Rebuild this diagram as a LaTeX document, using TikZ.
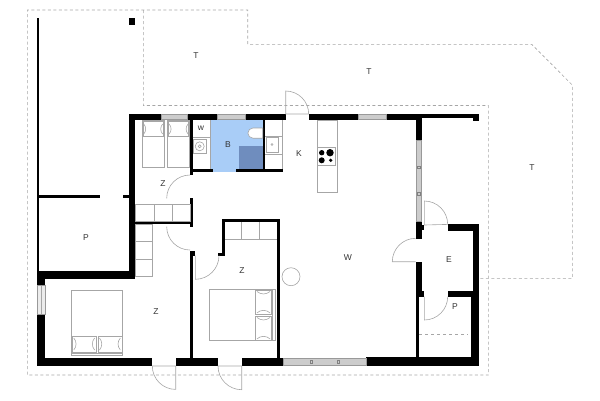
\documentclass[tikz,border=0pt]{standalone}
\usepackage{fontspec}
\setmainfont{Liberation Sans}
\definecolor{bathblue}{HTML}{A9CDF7}
\definecolor{showerblue}{HTML}{6F8DBE}
\tikzstyle{wall} = [fill=black, draw=none]
\tikzstyle{window} = [fill=gray!40, draw=gray!80, line width=0.5pt]
\tikzstyle{fixture} = [draw=gray!70, line width=0.6pt]
\tikzstyle{terrace} = [draw=gray!70, line width=0.6pt, dash pattern=on 3pt off 2.5pt]
\tikzstyle{room} = [font=\fontsize{8.5}{10}\selectfont, text=black!80, inner sep=0pt]

\begin{document}
\begin{tikzpicture}[x=1pt, y=-1pt]
  \useasboundingbox (0,0) rectangle (600,400);

  % Terrace outlines
  \draw[terrace] (143.3,10) -- (143.3,105.5) -- (488.3,105.5) -- (488.3,375) -- (27.3,375) -- (27.3,10) -- (247.7,10) -- (247.7,44.3) -- (531.7,44.3) -- (572.3,85) -- (572.3,278.3) -- (480,278.3);

  % Bathroom floor
  \fill[bathblue] (210.7,120) rectangle (262.7,169.5);
  \fill[bathblue] (210.7,169) rectangle (236,172.3);
  \fill[showerblue] (239,146) rectangle (262.7,169.3);

  % Outer walls
  \fill[wall] (129,114) rectangle (161,120);
  \fill[wall] (187,114) rectangle (217,120);
  \fill[wall] (245,114) rectangle (285.5,120);
  \fill[wall] (308.5,114) rectangle (358,120);
  \fill[wall] (386,114) rectangle (421.7,120);
  \fill[wall] (421,114) rectangle (479.3,117.5);
  \fill[wall] (473,114) rectangle (479.3,120.7);
  \fill[wall] (129,114) rectangle (135.3,279.3);
  \fill[wall] (36.5,18.3) rectangle (39.3,275);
  \fill[wall] (128.7,18.3) rectangle (135,25);
  \fill[wall] (39,195) rectangle (100,198.3);
  \fill[wall] (123.3,195) rectangle (129,198.3);
  \fill[wall] (36.7,270.7) rectangle (135.3,279.3);
  \fill[wall] (36.7,270.7) rectangle (45.3,285.7);
  \fill[wall] (36.7,314) rectangle (45.3,366);
  \fill[wall] (36.7,357.7) rectangle (152.3,366);
  \fill[wall] (175.7,357.7) rectangle (218,366);
  \fill[wall] (241.7,357.5) rectangle (283,366);
  \fill[wall] (366,357.3) rectangle (479.3,366);

  % Inner walls, bathroom
  \fill[wall] (190,120) rectangle (192.7,175);
  \fill[wall] (192,169.3) rectangle (212.7,172.3);
  \fill[wall] (236,169.3) rectangle (282.7,172.3);
  \fill[wall] (262.7,120) rectangle (265.3,172.3);

  % Inner walls, hall and bedrooms
  \fill[wall] (190,198.3) rectangle (192.7,226.7);
  \fill[wall] (135,221.7) rectangle (190,224.3);
  \fill[wall] (190,251) rectangle (195.3,255.7);
  \fill[wall] (190,251) rectangle (192.7,358);
  \fill[wall] (221.7,219.3) rectangle (224.8,255.7);
  \fill[wall] (218.3,252.7) rectangle (224.8,255.7);
  \fill[wall] (221.7,219.3) rectangle (280,222);
  \fill[wall] (276.7,219.3) rectangle (280,358);

  % Walls round the entrance
  \fill[wall] (415.7,114) rectangle (421.7,140);
  \fill[wall] (415.7,221) rectangle (421.7,239);
  \fill[wall] (421,225) rectangle (424.3,230);
  \fill[wall] (415.7,261.7) rectangle (421.7,291);
  \fill[wall] (415.7,290.7) rectangle (419,358);
  \fill[wall] (415.7,290.7) rectangle (424.3,296.7);
  \fill[wall] (447.7,224.3) rectangle (479.3,230.5);
  \fill[wall] (473.3,224.3) rectangle (479.3,291);
  \fill[wall] (447.7,290.7) rectangle (473.3,296.7);
  \fill[wall] (470.7,290.7) rectangle (479.3,366);

  % Windows
  \filldraw[window] (161,114.5) rectangle (187,119.5);
  \filldraw[window] (217,114.5) rectangle (245,119.5);
  \filldraw[window] (358,114.5) rectangle (386,119.5);
  \filldraw[window] (416,140) rectangle (421.5,221);
  \draw[fixture, draw=gray] (417.5,166) rectangle (420,168.5);
  \draw[fixture, draw=gray] (417.5,192.5) rectangle (420,195);
  \filldraw[window] (283,358.5) rectangle (366,365);
  \draw[fixture, draw=gray] (310,360.5) rectangle (312.5,363);
  \draw[fixture, draw=gray] (337,360.5) rectangle (339.5,363);
  \filldraw[fill=gray!15, draw=gray!80, line width=0.5pt] (37,285.7) rectangle (45,314);
  \draw[fixture] (41,285.7) -- (41,314);

  % Doors
  \draw[fixture] (285.7,114) -- (285.7,91) arc[start angle=-90, end angle=0, radius=23] -- cycle;
  \draw[fixture] (152.3,366) arc[start angle=180, end angle=90, radius=23.4] -- (175.7,366) -- cycle;
  \draw[fixture] (218,366) arc[start angle=180, end angle=90, radius=23.7] -- (241.7,366) -- cycle;
  \draw[fixture] (190,175) arc[start angle=-90, end angle=-180, radius=23.3];
  \draw[fixture] (166.7,226.7) arc[start angle=180, end angle=90, radius=23.3];
  \draw[fixture] (195.3,255.7) -- (195.3,279.3) arc[start angle=90, end angle=0, radius=23.7];
  \draw[fixture] (424.3,225) -- (424.3,201) arc[start angle=-90, end angle=0, radius=23.4] -- cycle;
  \draw[fixture] (415.7,261.7) -- (392.3,261.7) arc[start angle=180, end angle=270, radius=23.4];
  \draw[fixture] (424.3,296.7) -- (424.3,320) arc[start angle=90, end angle=0, radius=23.4];

  % Beds in the upper bedroom
  \foreach \bx in {142.3,167.7} {
    \draw[fixture] (\bx,120) rectangle ++(21.8,47.3);
    \draw[fixture] (\bx+1,121.7) rectangle ++(19.8,14.3);
    \draw[fixture] (\bx+1.5,124) to[bend left=40] (\bx+1.5,134);
    \draw[fixture] (\bx+20.3,124) to[bend right=40] (\bx+20.3,134);
  }

  % Double bed, lower left
  \draw[fixture] (71.7,290) rectangle (122.7,355.7);
  \draw[fixture] (71.7,353.5) -- (122.7,353.5);
  \foreach \bx in {72.3,98} {
    \draw[fixture] (\bx,336) rectangle ++(23.8,16.3);
    \draw[fixture] (\bx+1.5,338) to[bend left=40] (\bx+1.5,350);
    \draw[fixture] (\bx+22.3,338) to[bend right=40] (\bx+22.3,350);
  }

  % Double bed, middle room
  \draw[fixture] (209.3,289.3) rectangle (275,340.7);
  \draw[fixture] (272.7,289.3) -- (272.7,340.7);
  \foreach \by in {290,316} {
    \draw[fixture] (255,\by) rectangle (271.7,\by+24.3);
    \draw[fixture] (257,\by+1.5) to[bend right=40] (270,\by+1.5);
    \draw[fixture] (257,\by+22.8) to[bend left=40] (270,\by+22.8);
  }

  % Cupboards
  \draw[fixture] (135.3,204) rectangle (190,221.7);
  \draw[fixture] (154.7,204) -- (154.7,221.7);
  \draw[fixture] (172.5,204) -- (172.5,221.7);
  \draw[fixture] (135.3,224.3) rectangle (152.3,276.7);
  \draw[fixture] (135.3,241.7) -- (152.3,241.7);
  \draw[fixture] (135.3,259) -- (152.3,259);
  \draw[fixture] (225,239) -- (276.7,239);
  \draw[fixture] (241.7,222) -- (241.7,239);
  \draw[fixture] (259.3,222) -- (259.3,239);
  \draw[fixture] (291,276.7) circle[radius=9];

  % Utility room and bathroom fittings
  \draw[fixture] (192.7,137.3) -- (210.7,137.3);
  \draw[fixture] (210.7,120) -- (210.7,169.3);
  \draw[fixture] (193,139.7) rectangle (206,153);
  \draw[fixture] (199.7,146.3) circle[radius=4.5];
  \draw[fixture] (199.7,146.3) circle[radius=1.5];
  \draw[fixture, fill=white] (262.7,128) -- (253,128) arc[start angle=-90, end angle=-270, radius=5.1] -- (262.7,138.2) -- cycle;

  % Kitchen
  \draw[fixture] (282.7,120) -- (282.7,169.3);
  \draw[fixture] (265.3,136) -- (282.7,136);
  \draw[fixture] (265.3,154) -- (282.7,154);
  \draw[fixture] (266.7,137.5) rectangle (278.3,152.5);
  \draw[fixture] (272,144.5) circle[radius=1];
  \draw[fixture] (317.3,120) rectangle (337.7,192.3);
  \draw[fixture] (317.3,147.3) rectangle (335.3,165.7);
  \fill (321.7,152.7) circle[radius=2.7];
  \fill (330,152.7) circle[radius=3.7];
  \fill (321.7,160.3) circle[radius=3];
  \fill (330.7,160.3) circle[radius=1.8];

  % Storage line
  \draw[fixture, dashed] (419,334.3) -- (468.3,334.3);

  % Labels
  \node (t_left) [room] at (196,56) {T};
  \node (t_mid) [room] at (369,72) {T};
  \node (t_right) [room] at (532,168) {T};
  \node (utility) [room] at (201,128) {w};
  \node (bath) [room] at (228,145) {B};
  \node (kitchen) [room] at (299,154) {K};
  \node (hall) [room] at (163,184) {Z};
  \node (p_left) [room] at (86,238) {P};
  \node (z_left) [room] at (156,312) {Z};
  \node (z_mid) [room] at (242,271) {Z};
  \node (living) [room] at (348,258) {W};
  \node (entry) [room] at (449,260) {E};
  \node (p_right) [room] at (455,307) {P};

\end{tikzpicture}
\end{document}
